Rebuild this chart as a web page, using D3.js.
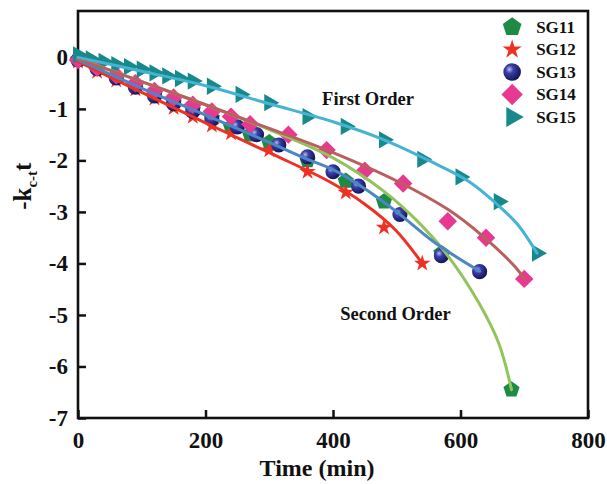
<!DOCTYPE html>
<html>
<head>
<meta charset="utf-8">
<script src="https://cdn.jsdelivr.net/npm/d3@7"></script>
<style>
  body { margin: 0; background: #fff; }
  svg text { font-family: "Liberation Serif", "Times New Roman", serif; font-weight: bold; fill: #111; }
</style>
</head>
<body>
<div id="my_dataviz"></div>
<script>
// measured points (time in min, -k t)
const sg11Time = [0, 30, 60, 90, 120, 150, 180, 210, 240, 270, 300, 360, 420, 480, 570, 680]
const sg11Val = [-0.05, -0.2, -0.38, -0.55, -0.72, -0.88, -1.02, -1.18, -1.35, -1.5, -1.65, -2.0, -2.4, -2.8, -3.8, -6.45]
const sg12Time = [0, 30, 60, 90, 120, 150, 180, 210, 240, 300, 360, 420, 480, 540]
const sg12Val = [-0.08, -0.28, -0.45, -0.62, -0.8, -0.98, -1.15, -1.32, -1.47, -1.8, -2.22, -2.62, -3.3, -4.0]
const sg13Time = [0, 30, 60, 90, 120, 150, 180, 210, 250, 280, 315, 360, 400, 440, 505, 570, 630]
const sg13Val = [-0.05, -0.22, -0.4, -0.58, -0.75, -0.9, -1.05, -1.2, -1.35, -1.5, -1.7, -1.93, -2.22, -2.5, -3.05, -3.85, -4.16]
const sg14Time = [0, 30, 60, 90, 120, 150, 180, 210, 240, 270, 330, 390, 450, 510, 580, 640, 700]
const sg14Val = [-0.05, -0.2, -0.35, -0.5, -0.65, -0.78, -0.92, -1.05, -1.15, -1.3, -1.5, -1.8, -2.2, -2.45, -3.18, -3.5, -4.3]
const sg15Time = [0, 20, 40, 60, 80, 100, 120, 140, 160, 180, 210, 255, 300, 360, 420, 480, 540, 600, 660, 720]
const sg15Val = [0.05, -0.03, -0.08, -0.14, -0.18, -0.23, -0.3, -0.36, -0.41, -0.46, -0.56, -0.72, -0.88, -1.15, -1.34, -1.6, -1.98, -2.32, -2.8, -3.8]

// fitted curves
const fit11Time = [0, 100, 200, 300, 400, 480, 530, 577, 628, 660, 680]
const fit11Val = [-0.02, -0.47, -0.92, -1.4, -1.95, -2.6, -3.15, -3.8, -4.75, -5.55, -6.45]
const fit12Time = [0, 100, 200, 300, 394, 450, 498, 540]
const fit12Val = [-0.08, -0.68, -1.27, -1.85, -2.41, -2.85, -3.35, -4.0]
const fit13Time = [0, 100, 200, 300, 360, 400, 450, 500, 560, 630]
const fit13Val = [-0.05, -0.6, -1.12, -1.65, -1.98, -2.18, -2.55, -3.0, -3.6, -4.15]
const fit14Time = [0, 100, 200, 300, 400, 500, 580, 633, 686, 700]
const fit14Val = [-0.03, -0.47, -0.92, -1.38, -1.85, -2.4, -2.95, -3.45, -4.07, -4.3]
const fit15Time = [0, 100, 200, 300, 400, 480, 550, 612, 660, 690, 720]
const fit15Val = [0.0, -0.27, -0.55, -0.9, -1.25, -1.6, -2.0, -2.4, -2.88, -3.25, -3.8]

const seriesNames = ["SG11", "SG12", "SG13", "SG14", "SG15"]
const markerColors = ["#1d8a45", "#ee3124", "#2e3192", "#e8388f", "#17898b"]
const lineColors = ["#93c45c", "#ee3124", "#4d86c6", "#b9605e", "#45b3d3"]
const xTicks = [0, 200, 400, 600, 800]
const yTicks = [-7, -6, -5, -4, -3, -2, -1, 0]

const points = [
    [sg11Time, sg11Val], [sg12Time, sg12Val], [sg13Time, sg13Val], [sg14Time, sg14Val], [sg15Time, sg15Val]
].map(([t, v]) => t.map((d, i) => ({t: d, v: v[i]})))
const fits = [
    [fit11Time, fit11Val], [fit12Time, fit12Val], [fit13Time, fit13Val], [fit14Time, fit14Val], [fit15Time, fit15Val]
].map(([t, v]) => t.map((d, i) => ({t: d, v: v[i]})))

// set the dimensions and margins of the graph
const margin = {top: 11, right: 19, bottom: 66, left: 78},
    width = 607 - margin.left - margin.right,
    height = 484 - margin.top - margin.bottom

const svg = d3.select("#my_dataviz")
    .append("svg")
    .attr("width", 607)
    .attr("height", 484)

const g = svg.append("g")
    .attr("transform", `translate(${margin.left},${margin.top})`)

const defs = svg.append("defs")
const grad = defs.append("radialGradient")
    .attr("id", "ball")
    .attr("cx", "35%").attr("cy", "35%").attr("r", "65%")
grad.append("stop").attr("offset", "0%").attr("stop-color", "#b7bbf0")
grad.append("stop").attr("offset", "35%").attr("stop-color", "#3a3fa8")
grad.append("stop").attr("offset", "100%").attr("stop-color", "#14165a")

const xScale = d3.scaleLinear().domain([0, 800]).range([0, width])
const yScale = d3.scaleLinear().domain([-7, 0.9]).range([height, 0])

// axes with inward ticks
g.append("g")
    .attr("class", "x-axis")
    .attr("transform", `translate(0, ${height})`)
    .call(d3.axisBottom(xScale).tickValues(xTicks).tickSizeInner(-8).tickSizeOuter(0).tickPadding(14)
        .tickFormat(d => String(d)))

g.append("g")
    .attr("class", "y-axis")
    .call(d3.axisLeft(yScale).tickValues(yTicks).tickSizeInner(-8).tickSizeOuter(0).tickPadding(10)
        .tickFormat(d => String(d)))

g.selectAll(".x-axis, .y-axis").attr("font-family", null).attr("font-size", null)
g.selectAll(".domain").remove()
g.selectAll(".tick line").attr("stroke", "#111").attr("stroke-width", 2.5)
g.selectAll(".tick text")
    .style("font-family", '"Liberation Serif", "Times New Roman", serif')
    .style("font-weight", "bold")
    .style("font-size", "23px")

g.append("rect")
    .attr("width", width)
    .attr("height", height)
    .attr("fill", "none")
    .attr("stroke", "#111")
    .attr("stroke-width", 2.6)

// marker shapes
const pentagon = {
    draw(context, size) {
        const r = Math.sqrt(size / 2.378)
        for (let i = 0; i < 5; i++) {
            const a = -Math.PI / 2 + i * 2 * Math.PI / 5
            if (i === 0) context.moveTo(r * Math.cos(a), r * Math.sin(a))
            else context.lineTo(r * Math.cos(a), r * Math.sin(a))
        }
        context.closePath()
    }
}
const shapes = [
    {type: pentagon, size: 170, rotate: 0},
    {type: d3.symbolStar, size: 85, rotate: 0},
    {type: d3.symbolCircle, size: 180, rotate: 0},
    {type: d3.symbolSquare, size: 170, rotate: 45},
    {type: d3.symbolTriangle, size: 130, rotate: 90}
]

// points
points.forEach(function (data, k) {
    g.append("g")
        .selectAll("path")
        .data(data)
        .enter()
        .append("path")
        .attr("d", d3.symbol().type(shapes[k].type).size(shapes[k].size)())
        .attr("fill", k === 2 ? "url(#ball)" : markerColors[k])
        .attr("transform", d => `translate(${xScale(d.t)},${yScale(d.v)}) rotate(${shapes[k].rotate})`)
})

// fitted lines
const line = d3.line()
    .x(d => xScale(d.t))
    .y(d => yScale(d.v))
    .curve(d3.curveCatmullRom.alpha(0.5))

fits.forEach(function (data, k) {
    g.append("path")
        .datum(data)
        .attr("d", line)
        .attr("fill", "none")
        .attr("stroke", lineColors[k])
        .attr("stroke-width", 3)
        .attr("stroke-linecap", "round")
})

// annotations
g.append("text")
    .attr("x", xScale(455))
    .attr("y", yScale(-0.92))
    .attr("text-anchor", "middle")
    .style("font-size", "18.5px")
    .text("First Order")

g.append("text")
    .attr("x", xScale(498))
    .attr("y", yScale(-5.1))
    .attr("text-anchor", "middle")
    .style("font-size", "18.5px")
    .text("Second Order")

// legend
const legend = g.append("g")
    .selectAll("g")
    .data(seriesNames)
    .enter()
    .append("g")
    .attr("transform", (d, i) => `translate(${xScale(681)},${16 + i * 22.5})`)

legend.each(function (d, k) {
    d3.select(this).append("path")
        .attr("d", d3.symbol().type(shapes[k].type).size(shapes[k].size * 1.35)())
        .attr("fill", k === 2 ? "url(#ball)" : markerColors[k])
        .attr("transform", `rotate(${shapes[k].rotate})`)
    d3.select(this).append("text")
        .attr("x", 24)
        .attr("dy", "0.35em")
        .style("font-size", "17px")
        .text(d)
})

// axis titles
svg.append("text")
    .attr("x", margin.left + xScale(375))
    .attr("y", 476)
    .attr("text-anchor", "middle")
    .style("font-size", "24px")
    .text("Time (min)")

const yLabel = svg.append("text")
    .attr("transform", `translate(31, ${margin.top + yScale(-2.5)}) rotate(-90)`)
    .attr("text-anchor", "middle")
    .style("font-size", "25px")
yLabel.append("tspan").text("-k")
yLabel.append("tspan").attr("dy", 6).style("font-size", "15px").text("c-t")
yLabel.append("tspan").attr("dy", -6).text("t")
</script>
</body>
</html>
